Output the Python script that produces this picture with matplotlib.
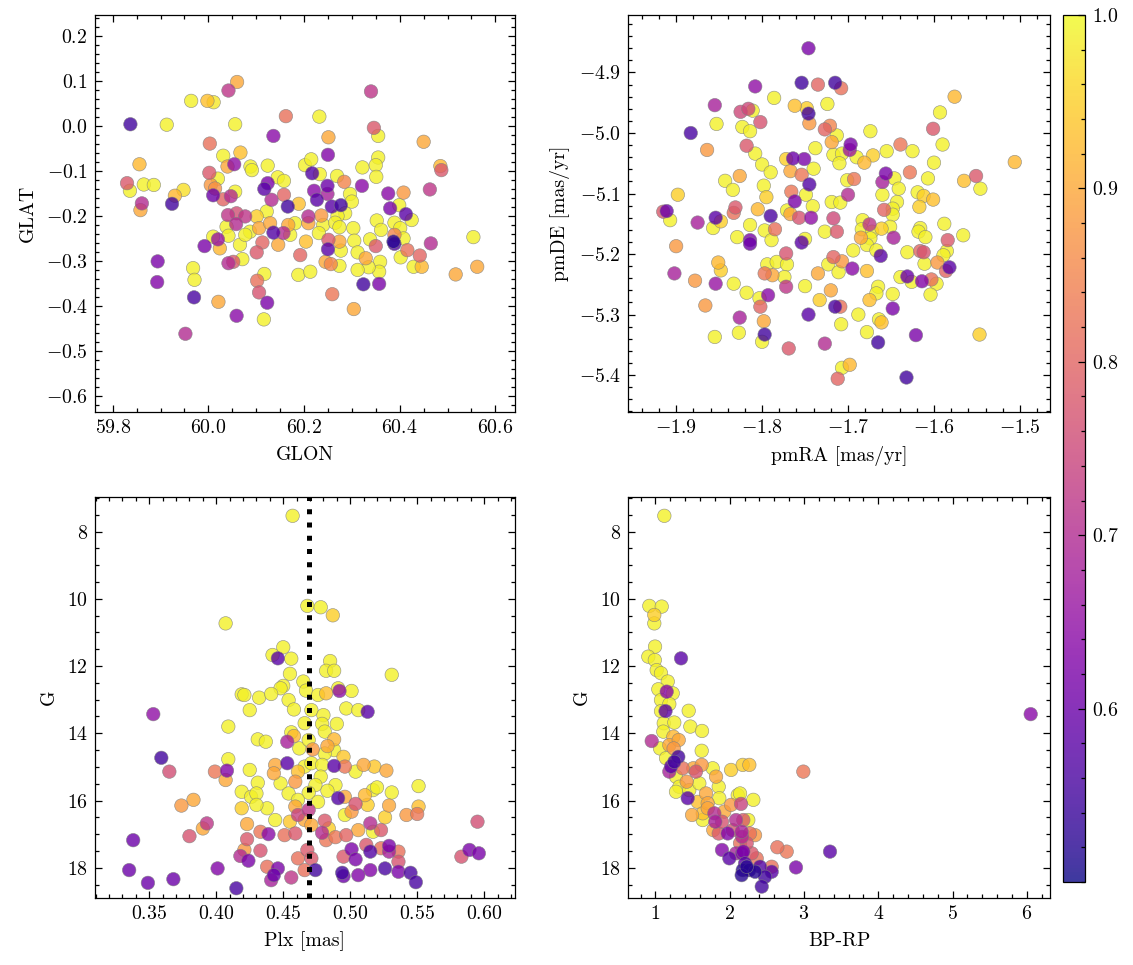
import numpy as np
import matplotlib
matplotlib.use("Agg")
import matplotlib.pyplot as plt
from matplotlib.ticker import MultipleLocator, AutoMinorLocator

plt.rcParams.update({
    "font.family": "serif",
    "font.serif": ["cmr10"],
    "mathtext.fontset": "cm",
    "axes.formatter.use_mathtext": True,
    "font.size": 9.5,
    "axes.linewidth": 0.6,
    "xtick.direction": "in", "ytick.direction": "in",
    "xtick.top": True, "ytick.right": True,
    "xtick.major.size": 3.4, "ytick.major.size": 3.4,
    "xtick.minor.size": 1.9, "ytick.minor.size": 1.9,
    "xtick.major.width": 0.6, "ytick.major.width": 0.6,
    "xtick.minor.width": 0.6, "ytick.minor.width": 0.6,
})

# ---------------- data: positions (GLON, GLAT, membership prob) ----------------
pos = [
(60.060,0.098,0.90),(60.042,0.079,0.72),(59.964,0.056,0.99),(59.998,0.056,0.93),(60.011,0.053,0.98),
(59.837,0.004,0.55),(59.913,0.003,0.99),(60.056,0.004,0.99),(60.162,0.022,0.82),(60.136,-0.022,0.64),
(60.003,-0.039,0.82),(60.031,-0.066,0.99),(60.067,-0.059,0.93),(60.054,-0.085,0.65),(60.040,-0.090,0.90),
(60.088,-0.090,0.99),(60.091,-0.098,0.99),(60.124,-0.088,0.99),(60.002,-0.104,0.78),(60.020,-0.117,0.99),
(59.856,-0.085,0.92),(59.830,-0.127,0.78),(59.836,-0.144,0.99),(59.865,-0.130,0.99),(59.886,-0.131,0.99),
(59.861,-0.172,0.70),(59.858,-0.187,0.90),(59.948,-0.142,0.97),(59.930,-0.155,0.92),(59.924,-0.173,0.55),
(60.005,-0.131,0.88),(60.014,-0.139,0.87),(60.010,-0.154,0.60),(60.031,-0.163,0.80),(60.047,-0.156,0.70),
(60.056,-0.146,0.99),(60.117,-0.140,0.58),(60.124,-0.127,0.62),(60.132,-0.164,0.70),(60.158,-0.153,0.80),
(60.145,-0.114,0.99),(60.158,-0.122,0.99),(60.166,-0.179,0.55),(60.189,-0.173,0.93),(60.202,-0.087,0.99),
(60.215,-0.074,0.99),(60.041,-0.198,0.72),(60.059,-0.194,0.76),(60.058,-0.218,0.70),(60.077,-0.201,0.72),
(60.101,-0.201,0.95),(60.038,-0.224,0.99),(60.087,-0.235,0.99),(60.106,-0.227,0.90),(60.129,-0.216,0.90),
(60.122,-0.190,0.99),(60.136,-0.237,0.57),(60.157,-0.238,0.70),(60.167,-0.220,0.90),(60.181,-0.216,0.99),
(60.204,-0.257,0.93),(60.146,-0.264,0.90),(60.171,-0.242,0.99),(60.010,-0.246,0.99),(60.020,-0.252,0.66),
(60.024,-0.272,0.92),(59.992,-0.267,0.62),(60.042,-0.244,0.99),(60.066,-0.264,0.99),(60.077,-0.242,0.99),
(60.113,-0.259,0.80),(60.101,-0.281,0.78),(60.071,-0.296,0.99),(60.042,-0.305,0.70),(60.052,-0.302,0.78),
(60.192,-0.287,0.80),(60.188,-0.331,0.99),(60.213,-0.324,0.99),(59.894,-0.301,0.62),(59.893,-0.347,0.63),
(59.968,-0.316,0.99),(59.971,-0.342,0.99),(59.970,-0.381,0.56),(60.021,-0.391,0.90),(60.117,-0.329,0.99),
(60.102,-0.344,0.82),(60.106,-0.370,0.77),(60.123,-0.393,0.62),(60.059,-0.422,0.64),(60.116,-0.430,0.99),
(59.952,-0.462,0.70),
(60.340,0.077,0.72),(60.232,0.021,0.99),(60.346,-0.004,0.78),(60.355,-0.022,0.99),(60.251,-0.025,0.90),
(60.450,-0.035,0.90),(60.250,-0.064,0.63),(60.217,-0.105,0.57),(60.233,-0.107,0.99),(60.322,-0.092,0.99),
(60.355,-0.070,0.99),(60.350,-0.087,0.99),(60.351,-0.113,0.99),(60.485,-0.089,0.92),(60.487,-0.098,0.78),
(60.269,-0.111,0.99),(60.284,-0.124,0.85),(60.321,-0.133,0.64),(60.249,-0.133,0.60),(60.221,-0.144,0.64),
(60.249,-0.151,0.68),(60.227,-0.164,0.58),(60.258,-0.179,0.58),(60.277,-0.176,0.55),(60.296,-0.151,0.99),
(60.300,-0.168,0.99),(60.286,-0.194,0.99),(60.270,-0.200,0.99),(60.236,-0.199,0.88),(60.209,-0.201,0.70),
(60.209,-0.216,0.90),(60.240,-0.220,0.99),(60.265,-0.215,0.99),(60.274,-0.225,0.99),(60.231,-0.238,0.99),
(60.303,-0.227,0.99),(60.305,-0.255,0.99),(60.376,-0.150,0.64),(60.408,-0.148,0.88),(60.463,-0.141,0.72),
(60.380,-0.183,0.62),(60.399,-0.176,0.99),(60.413,-0.196,0.58),(60.425,-0.209,0.99),(60.352,-0.210,0.99),
(60.361,-0.231,0.99),(60.389,-0.215,0.99),(60.401,-0.227,0.99),(60.338,-0.252,0.99),(60.350,-0.267,0.78),
(60.389,-0.242,0.85),(60.387,-0.257,0.52),(60.389,-0.262,0.57),(60.408,-0.250,0.99),(60.416,-0.276,0.82),
(60.402,-0.292,0.99),(60.442,-0.288,0.80),(60.465,-0.261,0.70),(60.554,-0.247,0.99),(60.429,-0.313,0.99),
(60.446,-0.313,0.92),(60.517,-0.330,0.90),(60.562,-0.313,0.90),(60.251,-0.253,0.78),(60.250,-0.274,0.58),
(60.274,-0.257,0.90),(60.277,-0.277,0.99),(60.312,-0.281,0.99),(60.329,-0.294,0.90),(60.359,-0.302,0.99),
(60.357,-0.324,0.99),(60.335,-0.314,0.99),(60.312,-0.320,0.99),(60.245,-0.302,0.90),(60.256,-0.307,0.85),
(60.274,-0.311,0.99),(60.324,-0.352,0.55),(60.357,-0.351,0.62),(60.259,-0.374,0.83),(60.304,-0.407,0.90),
]
glon = [r[0] for r in pos]
glat = [r[1] for r in pos]
prob_pos = [r[2] for r in pos]

# ---------------- data: proper motions (pmRA, pmDE, prob) ----------------
pm = [
(-1.746,-4.860,0.62),(-1.754,-4.917,0.55),(-1.735,-4.920,0.80),(-1.715,-4.917,0.55),(-1.808,-4.923,0.65),
(-1.786,-4.942,0.99),(-1.855,-4.954,0.68),(-1.825,-4.965,0.75),(-1.816,-4.960,0.75),(-1.811,-4.963,0.99),
(-1.762,-4.955,0.93),(-1.748,-4.959,0.95),(-1.746,-4.968,0.55),(-1.724,-4.952,0.99),(-1.853,-4.985,0.99),
(-1.802,-4.982,0.77),(-1.823,-4.990,0.99),(-1.814,-4.997,0.99),(-1.745,-4.984,0.88),(-1.727,-4.994,0.80),
(-1.721,-4.988,0.85),(-1.883,-5.000,0.56),(-1.864,-5.028,0.88),(-1.818,-5.021,0.78),(-1.808,-5.034,0.99),
(-1.800,-5.052,0.99),(-1.790,-5.065,0.99),(-1.772,-5.043,0.95),(-1.764,-5.042,0.60),(-1.751,-5.043,0.62),
(-1.738,-5.025,0.99),(-1.719,-5.015,0.90),(-1.767,-5.063,0.90),(-1.754,-5.069,0.83),(-1.740,-5.059,0.99),
(-1.745,-5.085,0.57),(-1.717,-5.036,0.99),(-1.843,-5.079,0.99),(-1.826,-5.071,0.90),(-1.834,-5.094,0.99),
(-1.798,-5.087,0.99),(-1.795,-5.106,0.95),(-1.898,-5.102,0.95),(-1.766,-5.097,0.83),(-1.762,-5.113,0.62),
(-1.749,-5.102,0.99),(-1.741,-5.121,0.99),(-1.719,-5.114,0.99),(-1.915,-5.130,0.78),(-1.911,-5.129,0.60),
(-1.907,-5.144,0.99),(-1.875,-5.148,0.68),(-1.854,-5.140,0.58),(-1.848,-5.146,0.95),(-1.857,-5.157,0.99),
(-1.831,-5.123,0.78),(-1.833,-5.132,0.82),(-1.805,-5.126,0.92),(-1.790,-5.137,0.56),(-1.771,-5.128,0.99),
(-1.767,-5.134,0.90),(-1.757,-5.140,0.77),(-1.743,-5.140,0.65),(-1.717,-5.141,0.75),(-1.814,-5.152,0.99),
(-1.797,-5.161,0.99),(-1.785,-5.159,0.82),(-1.829,-5.172,0.99),(-1.814,-5.177,0.62),(-1.814,-5.183,0.60),
(-1.789,-5.177,0.99),(-1.750,-5.175,0.99),(-1.754,-5.181,0.58),(-1.727,-5.163,0.99),(-1.900,-5.187,0.88),
(-1.902,-5.232,0.68),(-1.878,-5.244,0.88),(-1.854,-5.249,0.66),(-1.851,-5.214,0.92),(-1.848,-5.227,0.95),
(-1.866,-5.285,0.88),(-1.833,-5.249,0.99),(-1.818,-5.264,0.99),(-1.794,-5.217,0.99),(-1.783,-5.213,0.99),
(-1.772,-5.199,0.77),(-1.771,-5.217,0.99),(-1.797,-5.232,0.83),(-1.788,-5.235,0.90),(-1.774,-5.238,0.99),
(-1.772,-5.254,0.72),(-1.750,-5.253,0.99),(-1.793,-5.268,0.64),(-1.803,-5.273,0.99),(-1.802,-5.287,0.80),
(-1.826,-5.305,0.68),(-1.855,-5.337,0.99),(-1.827,-5.330,0.99),(-1.798,-5.311,0.90),(-1.797,-5.333,0.55),
(-1.800,-5.345,0.99),(-1.769,-5.356,0.78),(-1.746,-5.300,0.58),(-1.733,-5.276,0.95),(-1.720,-5.260,0.90),
(-1.727,-5.348,0.70),(-1.723,-5.217,0.99),(-1.735,-5.232,0.90),(-1.717,-5.205,0.80),(-1.715,-5.287,0.56),
(-1.712,-5.406,0.80),
(-1.708,-4.926,0.82),(-1.576,-4.940,0.92),(-1.593,-4.966,0.99),(-1.601,-4.993,0.78),(-1.674,-4.997,0.99),
(-1.713,-5.004,0.99),(-1.697,-5.019,0.62),(-1.698,-5.028,0.67),(-1.707,-5.034,0.99),(-1.690,-5.040,0.99),
(-1.681,-5.049,0.92),(-1.671,-5.037,0.95),(-1.655,-5.030,0.99),(-1.639,-5.019,0.83),(-1.625,-5.030,0.99),
(-1.590,-5.019,0.99),(-1.600,-5.049,0.99),(-1.506,-5.048,0.92),(-1.710,-5.050,0.99),(-1.656,-5.067,0.62),
(-1.660,-5.081,0.68),(-1.646,-5.075,0.99),(-1.641,-5.092,0.99),(-1.660,-5.102,0.99),(-1.628,-5.065,0.83),
(-1.607,-5.075,0.99),(-1.701,-5.078,0.99),(-1.693,-5.076,0.83),(-1.700,-5.102,0.70),(-1.709,-5.115,0.99),
(-1.619,-5.098,0.99),(-1.612,-5.104,0.95),(-1.601,-5.110,0.93),(-1.617,-5.122,0.95),(-1.643,-5.114,0.99),
(-1.648,-5.125,0.99),(-1.658,-5.127,0.80),(-1.648,-5.135,0.99),(-1.713,-5.163,0.78),(-1.683,-5.144,0.99),
(-1.675,-5.151,0.72),(-1.684,-5.159,0.99),(-1.672,-5.163,0.99),(-1.661,-5.158,0.95),(-1.651,-5.155,0.99),
(-1.685,-5.173,0.90),(-1.674,-5.174,0.99),(-1.694,-5.194,0.99),(-1.678,-5.185,0.99),(-1.667,-5.194,0.99),
(-1.647,-5.173,0.68),(-1.662,-5.203,0.58),(-1.631,-5.197,0.99),(-1.616,-5.157,0.99),(-1.618,-5.163,0.99),
(-1.610,-5.172,0.99),(-1.588,-5.150,0.99),(-1.566,-5.169,0.99),(-1.584,-5.177,0.78),(-1.616,-5.195,0.80),
(-1.612,-5.197,0.77),(-1.611,-5.216,0.99),(-1.585,-5.195,0.99),(-1.589,-5.202,0.99),(-1.596,-5.214,0.88),
(-1.582,-5.222,0.58),(-1.586,-5.228,0.80),(-1.707,-5.212,0.88),(-1.711,-5.230,0.99),(-1.695,-5.224,0.64),
(-1.678,-5.228,0.93),(-1.639,-5.238,0.99),(-1.631,-5.237,0.60),(-1.626,-5.246,0.99),(-1.614,-5.245,0.63),
(-1.603,-5.242,0.82),(-1.597,-5.249,0.99),(-1.604,-5.267,0.99),(-1.665,-5.254,0.99),(-1.667,-5.265,0.99),
(-1.675,-5.276,0.93),(-1.648,-5.266,0.99),(-1.648,-5.290,0.62),(-1.709,-5.287,0.82),(-1.688,-5.300,0.99),
(-1.708,-5.316,0.99),(-1.664,-5.308,0.99),(-1.661,-5.313,0.93),(-1.678,-5.329,0.99),(-1.665,-5.346,0.55),
(-1.621,-5.334,0.62),(-1.547,-5.333,0.95),(-1.707,-5.388,0.99),(-1.698,-5.383,0.92),(-1.632,-5.404,0.55),
(-1.565,-5.079,0.93),(-1.551,-5.071,0.78),(-1.546,-5.092,0.99),
]
pmra = [r[0] for r in pm]
pmde = [r[1] for r in pm]
prob_pm = [r[2] for r in pm]

# ---------------- data: parallax vs G (Plx, G, prob) ----------------
pg = [
(0.407,10.73,0.99),(0.419,12.84,0.99),(0.425,13.31,0.99),(0.409,13.80,0.99),(0.353,13.43,0.65),
(0.359,14.73,0.55),(0.365,15.14,0.76),(0.409,14.77,0.99),(0.399,15.14,0.83),(0.408,15.11,0.63),
(0.407,15.39,0.90),(0.425,15.09,0.99),(0.419,15.74,0.99),(0.419,16.23,0.95),(0.426,15.89,0.99),
(0.383,15.98,0.90),(0.374,16.15,0.88),(0.423,16.70,0.90),(0.393,16.68,0.72),(0.390,16.83,0.90),
(0.380,17.06,0.77),(0.423,17.15,0.78),(0.421,17.47,0.88),(0.418,17.65,0.70),(0.424,17.79,0.62),
(0.338,17.18,0.60),(0.335,18.07,0.60),(0.349,18.45,0.60),(0.368,18.34,0.60),(0.401,18.02,0.63),
(0.415,18.61,0.56),
(0.457,7.53,0.99),(0.468,10.21,0.99),(0.478,10.25,0.99),(0.487,10.49,0.95),(0.450,11.44,0.99),
(0.442,11.67,0.99),(0.446,11.77,0.58),(0.456,11.78,0.99),(0.485,11.85,0.99),(0.482,12.14,0.99),
(0.488,12.14,0.99),(0.455,12.23,0.99),(0.465,12.46,0.99),(0.450,12.59,0.99),(0.448,12.66,0.99),
(0.467,12.73,0.99),(0.482,12.81,0.93),(0.476,12.86,0.99),(0.492,12.74,0.65),(0.501,12.74,0.99),
(0.491,12.66,0.99),(0.432,12.94,0.99),(0.441,12.83,0.99),(0.421,12.86,0.99),(0.454,13.01,0.99),
(0.458,13.29,0.99),(0.471,13.31,0.99),(0.497,13.26,0.99),(0.506,13.31,0.99),(0.513,13.36,0.58),
(0.480,13.46,0.99),(0.490,13.72,0.99),(0.479,13.72,0.99),(0.466,13.70,0.99),(0.481,13.95,0.99),
(0.456,13.97,0.99),(0.431,14.18,0.99),(0.437,14.25,0.99),(0.458,14.08,0.92),(0.453,14.25,0.68),
(0.462,14.45,0.99),(0.469,14.20,0.99),(0.472,14.48,0.88),(0.483,14.38,0.90),(0.488,14.18,0.92),
(0.488,14.50,0.99),(0.481,14.60,0.99),(0.495,14.70,0.94),(0.453,14.89,0.58),(0.444,14.94,0.90),
(0.443,15.19,0.90),(0.431,15.47,0.99),(0.430,15.79,0.99),(0.438,16.23,0.99),(0.430,16.13,0.99),
(0.448,15.49,0.99),(0.454,15.79,0.99),(0.459,15.44,0.88),(0.461,15.14,0.93),(0.466,14.99,0.99),
(0.471,14.89,0.99),(0.479,14.94,0.99),(0.488,14.97,0.58),(0.496,14.99,0.83),(0.504,15.14,0.99),
(0.510,14.94,0.90),(0.518,14.99,0.94),(0.478,15.29,0.99),(0.474,15.54,0.99),(0.489,15.54,0.99),
(0.483,15.71,0.99),(0.469,15.77,0.99),(0.461,15.98,0.99),(0.476,16.04,0.99),(0.491,15.93,0.57),
(0.496,15.89,0.90),(0.511,15.84,0.92),(0.517,15.69,0.99),(0.513,16.13,0.95),(0.504,16.10,0.77),
(0.501,16.33,0.88),(0.496,16.43,0.99),(0.459,16.18,0.90),(0.461,16.43,0.74),(0.469,16.28,0.72),
(0.466,16.58,0.90),(0.444,16.58,0.99),(0.455,16.63,0.94),(0.471,16.73,0.90),(0.481,16.60,0.78),
(0.484,16.83,0.95),(0.479,16.96,0.70),(0.497,17.03,0.80),(0.506,16.88,0.90),(0.515,16.68,0.70),
(0.517,16.93,0.99),(0.433,16.93,0.83),(0.439,17.00,0.64),(0.451,17.03,0.82),(0.459,16.98,0.78),
(0.433,17.49,0.77),(0.461,17.72,0.82),(0.468,17.47,0.78),(0.471,17.72,0.78),(0.466,18.07,0.82),
(0.474,18.07,0.55),(0.438,17.97,0.82),(0.446,18.02,0.62),(0.443,18.22,0.60),(0.441,18.37,0.68),
(0.456,18.29,0.72),(0.482,17.18,0.83),(0.489,17.09,0.83),(0.495,17.67,0.78),(0.501,17.45,0.62),
(0.504,17.75,0.62),(0.512,17.32,0.78),(0.515,17.52,0.57),(0.515,18.07,0.63),(0.506,18.22,0.63),
(0.494,18.15,0.55),(0.495,18.25,0.60),
(0.531,12.26,0.99),(0.527,15.11,0.90),(0.520,15.61,0.99),(0.531,15.76,0.99),(0.551,15.57,0.99),
(0.529,16.15,0.90),(0.551,16.18,0.93),(0.542,16.43,0.88),(0.550,16.40,0.83),(0.526,16.50,0.95),
(0.523,16.88,0.78),(0.595,16.63,0.76),(0.529,17.35,0.62),(0.529,17.52,0.68),(0.523,17.42,0.82),
(0.536,17.52,0.82),(0.536,17.82,0.77),(0.536,18.12,0.62),(0.526,18.02,0.56),(0.545,18.15,0.56),
(0.549,18.43,0.56),(0.583,17.67,0.77),(0.589,17.47,0.62),(0.596,17.57,0.62),
]
plx = [r[0] for r in pg]
g_plx = [r[1] for r in pg]
prob_plx = [r[2] for r in pg]
plx_cluster = 0.469

# ---------------- data: colour-magnitude (BP-RP, G, prob) ----------------
cmd = [
(1.120,7.53,0.99),(0.918,10.21,0.99),(1.085,10.23,0.99),(0.985,10.48,0.95),(0.985,10.73,0.99),
(0.995,11.42,0.99),(0.904,11.72,0.99),(0.992,11.82,0.99),(1.345,11.77,0.58),(1.017,12.12,0.99),
(1.075,12.21,0.99),(1.166,12.46,0.99),(1.039,12.69,0.99),(1.152,12.76,0.64),(1.233,12.81,0.99),
(1.075,13.01,0.99),(1.187,13.13,0.99),(1.136,13.34,0.58),(1.075,13.34,0.99),(1.448,13.33,0.99),
(1.112,13.70,0.99),(1.254,13.68,0.99),(1.470,13.80,0.99),(1.627,13.93,0.99),(1.106,13.95,0.99),
(1.241,14.10,0.92),(0.950,14.23,0.70),(1.187,14.35,0.90),(1.314,14.20,0.90),(1.062,14.45,0.99),
(1.246,14.45,0.88),(1.623,14.52,0.99),(1.143,14.74,0.99),(1.308,14.70,0.55),(1.254,14.85,0.55),
(1.210,14.99,0.58),(1.187,15.14,0.68),(1.367,15.04,0.82),(1.510,15.04,0.90),(1.623,14.94,0.88),
(1.546,15.14,0.77),(1.771,15.04,0.99),(1.816,15.29,0.90),(1.421,15.44,0.88),(1.277,15.29,0.99),
(1.322,15.59,0.99),(1.277,15.74,0.99),(1.456,15.69,0.99),(1.591,15.49,0.99),(1.681,15.79,0.90),
(1.435,15.93,0.58),(1.569,16.04,0.93),(1.704,16.08,0.90),(1.852,15.59,0.99),(1.860,15.93,0.99),
(1.493,16.43,0.90),(1.637,16.38,0.93),(1.637,16.58,0.99),(1.704,16.23,0.90),(1.793,16.38,0.70),
(1.806,16.63,0.68),(1.779,16.88,0.90),(1.927,16.33,0.90),(1.896,16.63,0.77),(1.973,16.98,0.63),
(1.852,16.98,0.78),(2.018,16.13,0.88),(2.108,15.84,0.99),(2.018,15.09,0.95),(2.175,14.94,0.95),
(2.152,16.10,0.74),(2.085,16.58,0.70),(2.040,16.88,0.77),(2.166,17.08,0.70),(1.896,17.47,0.63),
(1.995,17.72,0.58),(2.085,17.57,0.68),(2.166,17.57,0.62),(2.175,18.07,0.52),
(2.264,14.94,0.93),(2.991,15.14,0.83),(2.139,15.79,0.99),(2.318,15.98,0.99),(2.250,16.58,0.99),
(2.183,16.58,0.78),(2.161,16.93,0.68),(2.273,16.98,0.82),(2.341,17.03,0.88),(2.229,17.27,0.77),
(2.139,17.27,0.82),(2.183,17.52,0.62),(2.296,17.57,0.78),(2.363,17.72,0.82),(2.206,17.87,0.58),
(2.264,18.07,0.52),(2.341,18.12,0.52),(2.408,17.97,0.57),(2.475,18.27,0.55),(2.431,18.56,0.55),
(2.565,18.12,0.58),(2.565,17.97,0.82),(2.641,17.39,0.82),(2.767,17.52,0.83),(2.892,17.99,0.62),
(3.350,17.52,0.58),(2.161,18.22,0.52),(2.229,17.97,0.52),(6.051,13.43,0.64),
]
bprp = [r[0] for r in cmd]
g_cmd = [r[1] for r in cmd]
prob_cmd = [r[2] for r in cmd]

# ---------------- figure ----------------
W, H = 1133, 965
fig = plt.figure(figsize=(W / 150, H / 150), dpi=150)

def rect(l, t, r, b):
    return [l / W, 1 - b / H, (r - l) / W, (b - t) / H]

ax1 = fig.add_axes(rect(95, 15, 515, 412))
ax2 = fig.add_axes(rect(628, 15, 1050, 412))
ax3 = fig.add_axes(rect(95, 497, 515, 898))
ax4 = fig.add_axes(rect(628, 497, 1050, 898))
cax = fig.add_axes(rect(1063, 15, 1085, 882))

kw = dict(cmap="plasma", vmin=0.5, vmax=1.0, s=42, alpha=0.8,
          edgecolors="gray", linewidths=0.3)

def draw(ax, x, y, p):
    x = np.asarray(x); y = np.asarray(y); p = np.asarray(p)
    order = np.argsort(-p, kind="stable")
    return ax.scatter(x[order], y[order], c=p[order], **kw)

sc = draw(ax1, glon, glat, prob_pos)
draw(ax2, pmra, pmde, prob_pm)
draw(ax3, plx, g_plx, prob_plx)
draw(ax4, bprp, g_cmd, prob_cmd)
ax3.axvline(plx_cluster, color="black", ls=":", lw=2.4, zorder=5)

ax1.set_xlim(59.763, 60.641); ax1.set_ylim(-0.636, 0.247)
ax1.xaxis.set_major_locator(MultipleLocator(0.2)); ax1.yaxis.set_major_locator(MultipleLocator(0.1))
ax1.set_xlabel("GLON"); ax1.set_ylabel("GLAT")

ax2.set_xlim(-1.956, -1.465); ax2.set_ylim(-5.461, -4.805)
ax2.xaxis.set_major_locator(MultipleLocator(0.1)); ax2.yaxis.set_major_locator(MultipleLocator(0.1))
ax2.set_xlabel("pmRA [mas/yr]"); ax2.set_ylabel("pmDE [mas/yr]")

ax3.set_xlim(0.3095, 0.623); ax3.set_ylim(18.90, 6.97)
ax3.xaxis.set_major_locator(MultipleLocator(0.05)); ax3.yaxis.set_major_locator(MultipleLocator(2))
ax3.set_xlabel("Plx [mas]"); ax3.set_ylabel("G")

ax4.set_xlim(0.631, 6.311); ax4.set_ylim(18.90, 6.97)
ax4.xaxis.set_major_locator(MultipleLocator(1)); ax4.yaxis.set_major_locator(MultipleLocator(2))
ax4.set_xlabel("BP-RP"); ax4.set_ylabel("G")

for ax in (ax1, ax2, ax3, ax4):
    ax.xaxis.set_minor_locator(AutoMinorLocator())
    ax.yaxis.set_minor_locator(AutoMinorLocator())
    ax.tick_params(which="both", direction="in", top=True, right=True)

cb = fig.colorbar(sc, cax=cax)
cb.set_ticks([0.6, 0.7, 0.8, 0.9, 1.0])
cb.ax.yaxis.set_minor_locator(AutoMinorLocator())
cb.ax.tick_params(which="both", direction="in")
cb.outline.set_linewidth(0.6)

fig.savefig("out.png", dpi=150)
